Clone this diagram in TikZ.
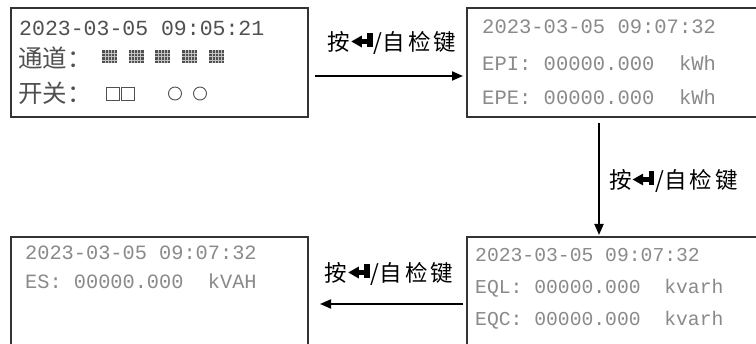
\documentclass[tikz,border=0pt]{standalone}
\usepackage{fontspec}
\usetikzlibrary{arrows.meta}
\newfontfamily\monof{Liberation Mono}
\newfontfamily\cjkf{Noto Sans CJK SC}
\newcommand{\enterglyph}{\hspace{1pt}\tikz[x=1pt,y=1pt,baseline=-4pt]{\fill (0,5)--(10.5,11)--(10.5,-1)--cycle; \fill (9,2.5) rectangle (17,7.5); \fill (16,0) rectangle (21.5,14);}\hspace{1pt}}
\newcommand{\keytext}{按\enterglyph/自\hspace{3pt}检\hspace{3pt}键}
\definecolor{txtdark}{HTML}{505050}
\definecolor{txtlight}{HTML}{8A8A8A}
\definecolor{boxline}{HTML}{333333}
\tikzset{
  screen/.style={draw=boxline, line width=1.3pt, fill=white},
  lcd/.style={anchor=west, inner sep=0pt, font=\monof\fontsize{20.5}{22}\selectfont, text=txtlight},
  lcddark/.style={anchor=west, inner sep=0pt, font=\monof\fontsize{21.5}{23}\selectfont, text=txtdark},
  cjkdark/.style={anchor=west, inner sep=0pt, font=\cjkf\fontsize{24.5}{26}\selectfont, text=txtdark},
  keylabel/.style={inner sep=0pt, font=\cjkf\fontsize{22.5}{25}\selectfont, text=black},
  flow/.style={line width=2pt, -{Triangle[length=11pt,width=9pt]}},
  sq/.style={draw=txtdark, line width=0.9pt},
}
\begin{document}
\begin{tikzpicture}[x=1pt,y=-1pt]
\clip (0,0) rectangle (756,344);
\fill[white] (0,0) rectangle (756,344);
% screens
\draw[screen] (11,8) rectangle (308,117);
\draw[screen] (467,8) rectangle (762,117);
\draw[screen] (467,237) rectangle (762,360);
\draw[screen] (11,237) rectangle (308,360);
% screen 1 text
\node[lcddark] (t11) at (19,28) {2023-03-05 09:05:21};
\node[cjkdark] (t12) at (18,58) {通道：};
\node[cjkdark] (t13) at (18,93) {开关：};
\foreach \i in {0,...,4} {
  \begin{scope}[shift={(102+26.7*\i,50)}]
    \fill[txtdark] (0,0) rectangle (15,13);
    \foreach \k in {3,6,9,12} { \draw[white!65!txtdark, line width=0.5pt] (\k,0) -- (\k,13); }
    \foreach \k in {3,6.5,10} { \draw[white!65!txtdark, line width=0.5pt] (0,\k) -- (15,\k); }
  \end{scope}
}
\draw[sq] (106,87) rectangle (119,100);
\draw[sq] (121,87) rectangle (134,100);
\draw[sq] (175,93.5) circle (6.5);
\draw[sq] (200,93.5) circle (6.5);
% screen 2 text
\node[lcd] (t21) at (482,27) {2023-03-05 09:07:32};
\node[lcd] (t22) at (482,63) {EPI: 00000.000\ \ kWh};
\node[lcd] (t23) at (482,97) {EPE: 00000.000\ \ kWh};
% screen 3 text
\node[lcd, font=\monof\fontsize{19.7}{21}\selectfont] (t31) at (475,255) {2023-03-05 09:07:32};
\node[lcd, font=\monof\fontsize{19.7}{21}\selectfont] (t32) at (475,288) {EQL: 00000.000\ \ kvarh};
\node[lcd, font=\monof\fontsize{19.7}{21}\selectfont] (t33) at (475,320) {EQC: 00000.000\ \ kvarh};
% screen 4 text
\node[lcd, font=\monof\fontsize{20.3}{22}\selectfont] (t41) at (25,253) {2023-03-05 09:07:32};
\node[lcd, font=\monof\fontsize{20.3}{22}\selectfont] (t42) at (25,281) {ES: 00000.000\ \ kVAH};
% connectors
\coordinate (a1s) at (315,76);
\coordinate (a1e) at (463,76);
\draw[flow] (a1s) -- (a1e);
\node[keylabel] (k1) at (392,43) {\keytext};
\coordinate (a2s) at (599,123);
\coordinate (a2e) at (599,235);
\draw[flow] (a2s) -- (a2e);
\node[keylabel, anchor=west] (k2) at (609,181) {\keytext};
\coordinate (a3s) at (463,304);
\coordinate (a3e) at (320,304);
\draw[flow] (a3s) -- (a3e);
\node[keylabel] (k3) at (389,274) {\keytext};
\end{tikzpicture}
\end{document}
